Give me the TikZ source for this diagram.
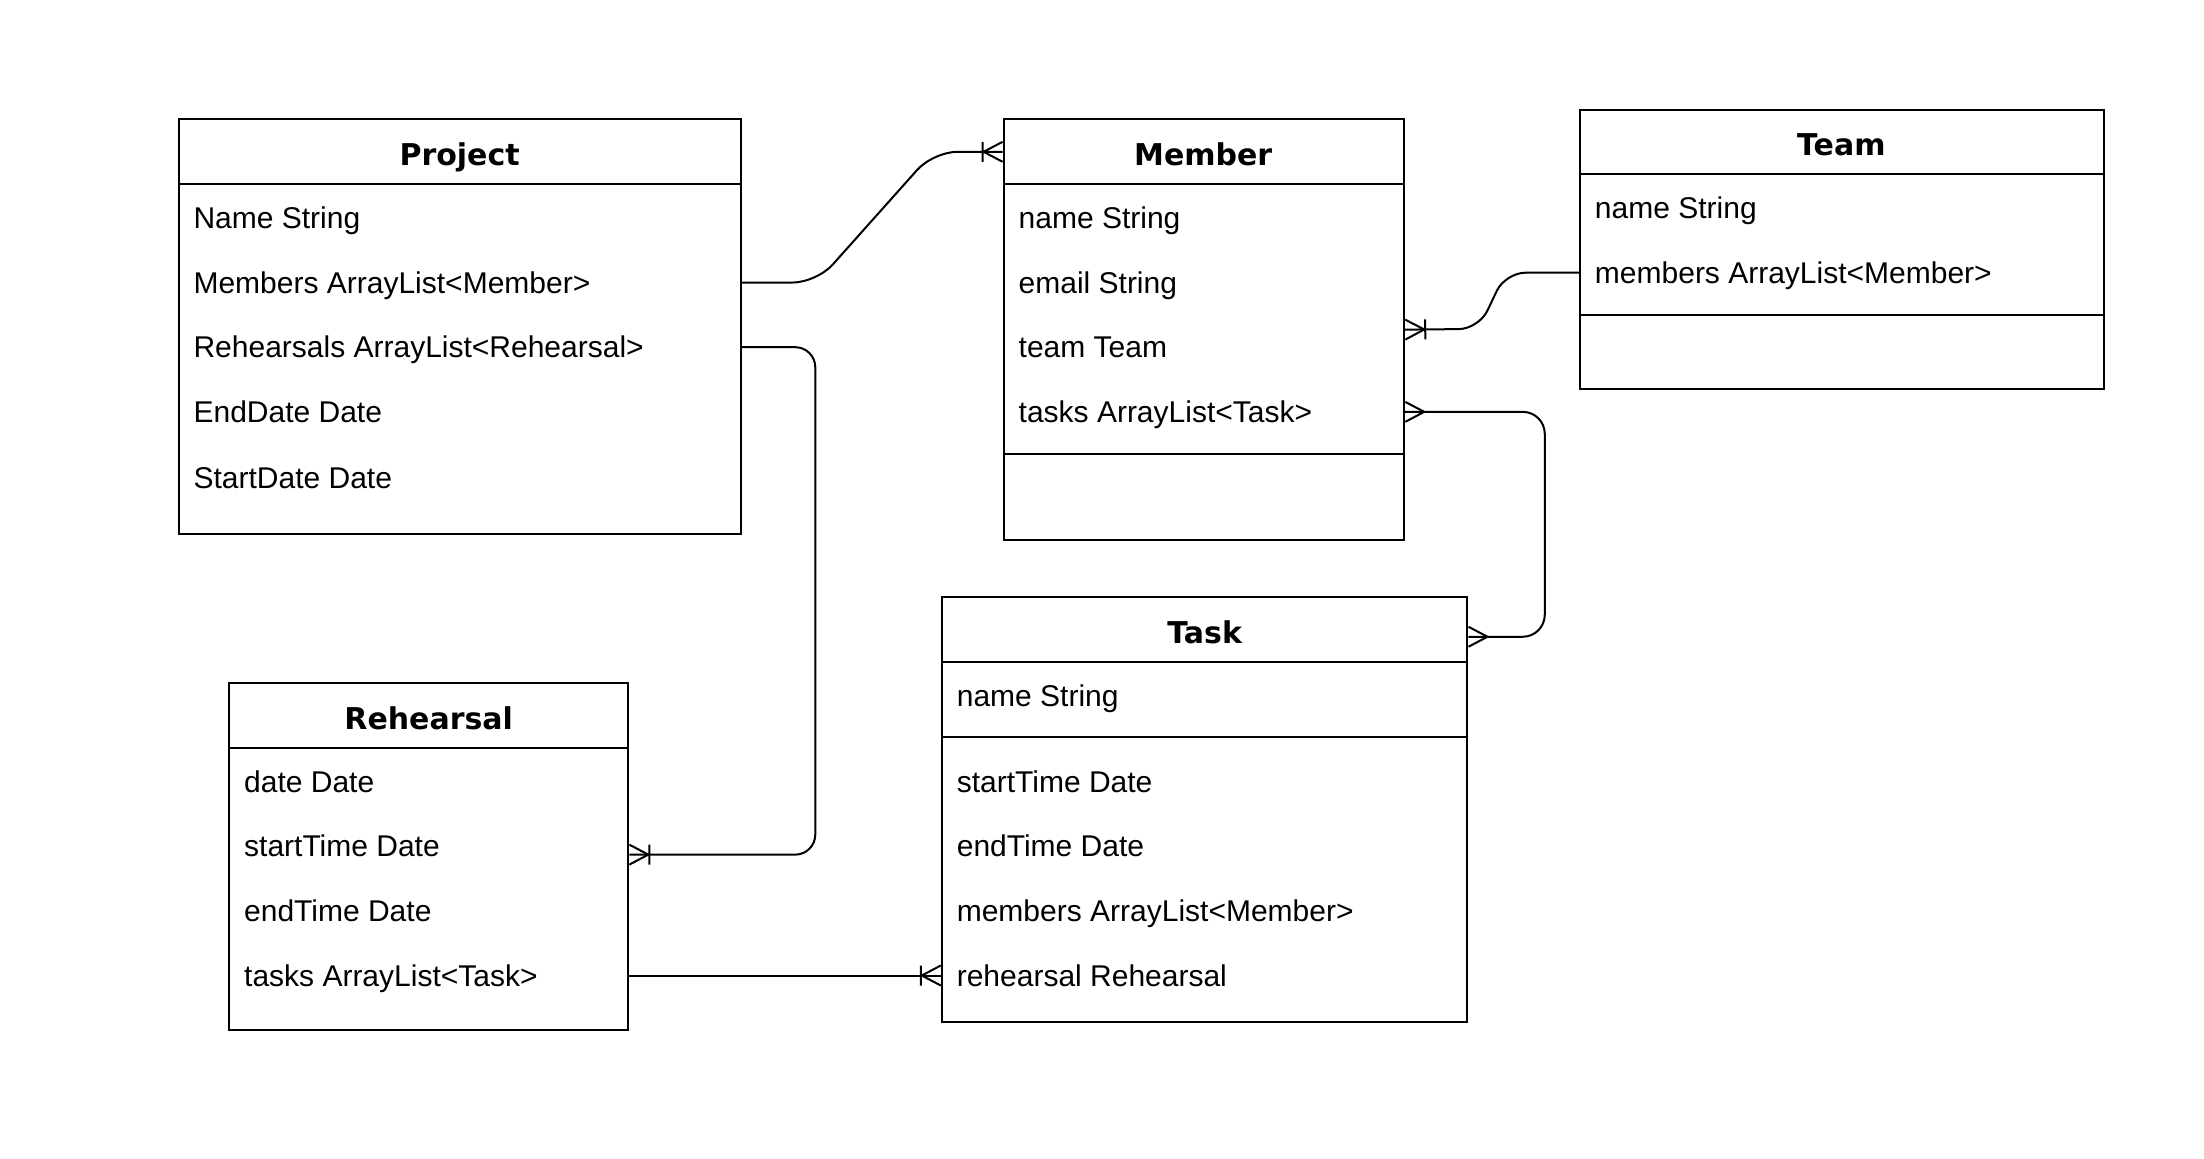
\documentclass[tikz,border=0pt]{standalone}
\usepackage{fontspec}
\setmainfont{Liberation Sans}
\newfontfamily\titlefont{DejaVu Sans}
\usepackage{tikz}
\usetikzlibrary{fit,decorations.markings}

% crow's foot ends
\tikzset{
  manyend/.style={postaction={decorate,decoration={markings,mark=at position 1 with {\draw (-9.5pt,0pt) -- (0pt,5pt) (-9.5pt,0pt) -- (0pt,-5pt);}}}},
  onemanyend/.style={postaction={decorate,decoration={markings,mark=at position 1 with {\draw (-9.5pt,0pt) -- (0pt,5pt) (-9.5pt,0pt) -- (0pt,-5pt) (-10pt,-5pt) -- (-10pt,5pt);}}}},
  manystart/.style={postaction={decorate,decoration={markings,mark=at position 0 with {\draw (9.5pt,0pt) -- (0pt,5pt) (9.5pt,0pt) -- (0pt,-5pt);}}}}
}

\begin{document}
\begin{tikzpicture}[x=0.7028pt,y=-0.7028pt,line width=1pt,
  entity/.style={draw,inner sep=0pt},
  field/.style={anchor=west,inner sep=0pt,text height=10.7pt,text depth=0pt,font=\fontsize{15}{18}\selectfont},
  title/.style={inner sep=0pt,text height=10.9pt,text depth=0pt,font=\titlefont\bfseries\fontsize{15}{18}\selectfont}]

\useasboundingbox (0,0) rectangle (1568,824);

% Project
\node [entity, fit={(127,85) (527,380)}] (project) {};
\draw (127,131) -- (527,131);
\node [title] (prjTitle) at (327,110) {Project};
\node [field] (prjName) at (137,155) {Name String};
\node [field] (prjMembers) at (137,201) {Members ArrayList<Member>};
\node [field] (prjRehearsals) at (137,247) {Rehearsals ArrayList<Rehearsal>};
\node [field] (prjEnd) at (137,293) {EndDate Date};
\node [field] (prjStart) at (137,340) {StartDate Date};

% Member
\node [entity, fit={(714,85) (999,384)}] (member) {};
\draw (714,131) -- (999,131);
\draw (714,323) -- (999,323);
\node [title] (memTitle) at (856,110) {Member};
\node [field] (memName) at (724,155) {name String};
\node [field] (memEmail) at (724,201) {email String};
\node [field] (memTeam) at (724,247) {team Team};
\node [field] (memTasks) at (724,293) {tasks ArrayList<Task>};

% Team
\node [entity, fit={(1124,78) (1497,277)}] (team) {};
\draw (1124,124) -- (1497,124);
\draw (1124,224) -- (1497,224);
\node [title] (tmTitle) at (1310,103) {Team};
\node [field] (tmName) at (1134,148) {name String};
\node [field] (tmMembers) at (1134,194) {members ArrayList<Member>};

% Task
\node [entity, fit={(670,425) (1044,727)}] (task) {};
\draw (670,471) -- (1044,471);
\draw (670,524) -- (1044,524);
\node [title] (tskTitle) at (857,450) {Task};
\node [field] (tskName) at (680,495) {name String};
\node [field] (tskStart) at (680,556) {startTime Date};
\node [field] (tskEnd) at (680,602) {endTime Date};
\node [field] (tskMembers) at (680,648) {members ArrayList<Member>};
\node [field] (tskRehearsal) at (680,694) {rehearsal Rehearsal};

% Rehearsal
\node [entity, fit={(163,486) (447,733)}] (rehearsal) {};
\draw (163,532) -- (447,532);
\node [title] (reTitle) at (305,511) {Rehearsal};
\node [field] (reDate) at (173,556) {date Date};
\node [field] (reStart) at (173,602) {startTime Date};
\node [field] (reEnd) at (173,648) {endTime Date};
\node [field] (reTasks) at (173,694) {tasks ArrayList<Task>};

% relations
\draw [rounded corners=12pt, onemanyend] (prjMembers -| project.east) -- (581,201) -- (664,108) -- (member.west |- 0,108);
\draw [rounded corners=10pt, onemanyend] (prjRehearsals -| project.east) -- (580,247) -- (580,608) -- (rehearsal.east |- 0,608);
\draw [rounded corners=10pt, onemanyend] (tmMembers -| team.west) -- (1071,194) -- (1052,234) -- (member.east);
\draw [rounded corners=11pt, manystart, manyend] (memTasks -| member.east) -- (1099,293) -- (1099,453) -- (task.east |- 0,453);
\draw [onemanyend] (reTasks -| rehearsal.east) -- (reTasks -| task.west);
\end{tikzpicture}
\end{document}
